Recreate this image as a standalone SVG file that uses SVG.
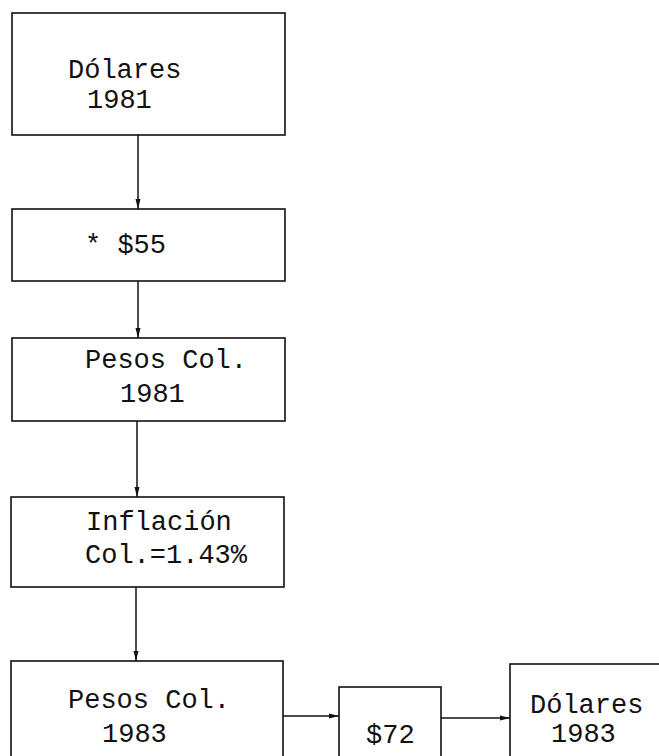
<svg xmlns="http://www.w3.org/2000/svg" width="659" height="756" viewBox="0 0 659 756">
<style>
.box{fill:#fff;stroke:#111;stroke-width:1.6}
.t{font-family:"Liberation Mono","DejaVu Sans Mono",monospace;fill:#111;font-size:27px}
.c{stroke:#111;stroke-width:1.5;fill:none}
</style>
<defs>
<marker id="ah" viewBox="0 0 10 6" refX="10" refY="3" markerWidth="10" markerHeight="6" markerUnits="userSpaceOnUse" orient="auto">
<path d="M0,0.5 L10,3 L0,5.5 Z" fill="#111"/>
</marker>
</defs>
<rect width="659" height="756" fill="#fff"/>
<g id="connectors">
<line class="c" x1="138" y1="135" x2="138" y2="209" marker-end="url(#ah)"/>
<line class="c" x1="138" y1="281" x2="138" y2="338" marker-end="url(#ah)"/>
<line class="c" x1="137" y1="421" x2="137" y2="497" marker-end="url(#ah)"/>
<line class="c" x1="136" y1="587" x2="136" y2="661" marker-end="url(#ah)"/>
<line class="c" x1="283" y1="716" x2="339" y2="716" marker-end="url(#ah)"/>
<line class="c" x1="441" y1="718" x2="510" y2="718" marker-end="url(#ah)"/>
</g>
<g id="n1">
<rect class="box" x="12" y="13" width="273" height="122"/>
<text class="t" x="68" y="78">Dólares</text>
<text class="t" x="87" y="108">1981</text>
</g>
<g id="n2">
<rect class="box" x="12" y="209" width="273" height="72"/>
<text class="t" x="85" y="253">* $55</text>
</g>
<g id="n3">
<rect class="box" x="12" y="338" width="273" height="83"/>
<text class="t" x="85" y="368">Pesos Col.</text>
<text class="t" x="120" y="402">1981</text>
</g>
<g id="n4">
<rect class="box" x="11" y="497" width="273" height="90"/>
<text class="t" x="86" y="530">Inflación</text>
<text class="t" x="85" y="563">Col.=1.43%</text>
</g>
<g id="n5">
<rect class="box" x="11" y="661" width="272" height="120"/>
<text class="t" x="68" y="708">Pesos Col.</text>
<text class="t" x="102" y="742">1983</text>
</g>
<g id="n6">
<rect class="box" x="339" y="687" width="102" height="100"/>
<text class="t" x="366" y="743">$72</text>
</g>
<g id="n7">
<rect class="box" x="510" y="664" width="180" height="120"/>
<text class="t" x="530" y="713">Dólares</text>
<text class="t" x="551" y="742">1983</text>
</g>
</svg>
